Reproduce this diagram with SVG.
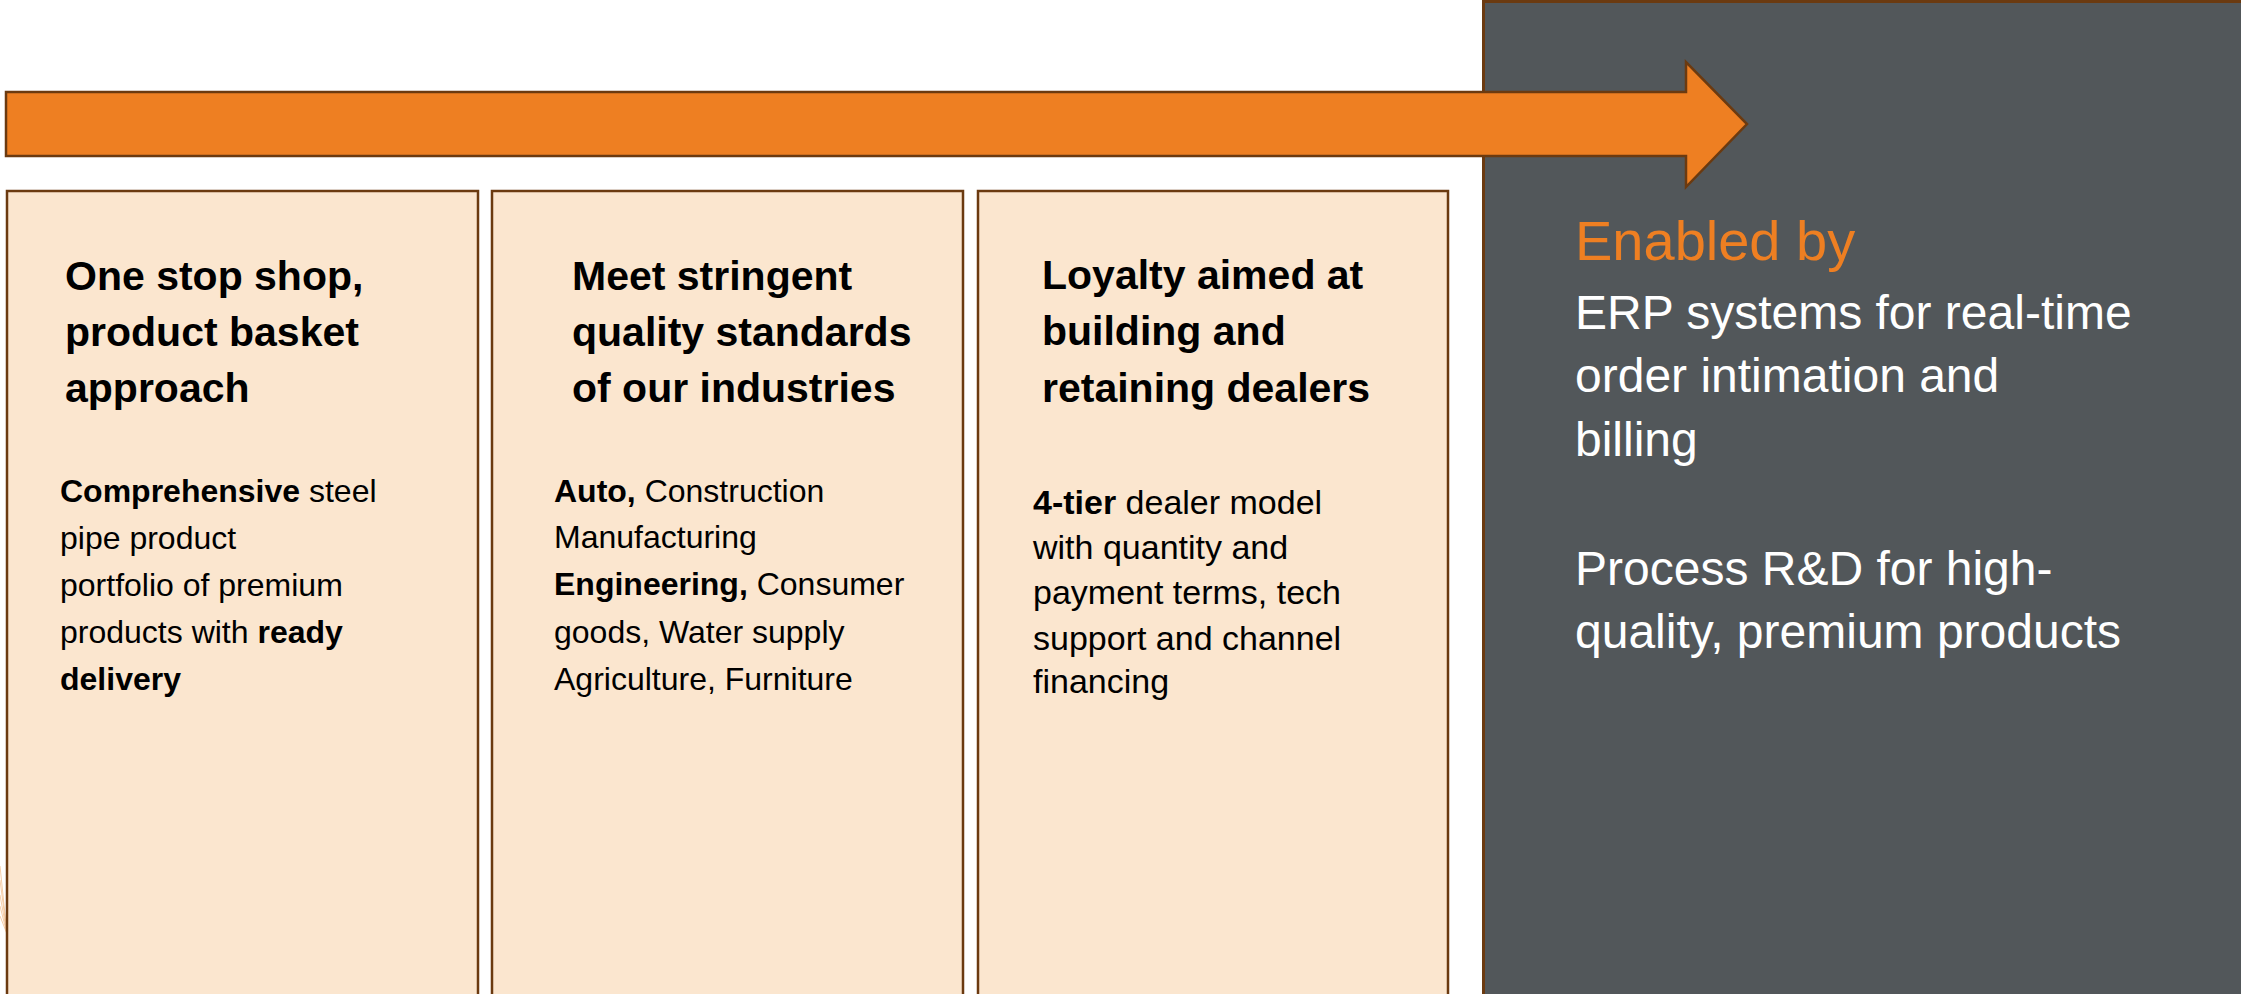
<svg xmlns="http://www.w3.org/2000/svg" width="2241" height="994" viewBox="0 0 2241 994">
  <style>
    .box { fill: #FBE6CF; stroke: #6B3A10; stroke-width: 2.5; }
    .panel { fill: #52575A; stroke: #6B3A10; stroke-width: 3; }
    .title { font-family: "Liberation Sans", Arial, sans-serif; font-weight: bold; font-size: 41px; fill: #000000; }
    .body { font-family: "Liberation Sans", Arial, sans-serif; font-size: 32px; fill: #000000; }
    .body3 { font-family: "Liberation Sans", Arial, sans-serif; font-size: 34px; fill: #000000; }
    .b { font-weight: bold; }
    .head { font-family: "Liberation Sans", Arial, sans-serif; font-size: 56px; fill: #EE7F22; }
    .side { font-family: "Liberation Sans", Arial, sans-serif; font-size: 48px; fill: #FFFFFF; }
    .trace { stroke: #F2C293; stroke-width: 0.8; fill: none; }
  </style>

  <rect width="2241" height="994" fill="#FFFFFF"/>

  <!-- right-hand "Enabled by" panel -->
  <g id="enablers">
    <rect class="panel" x="1483.5" y="1.5" width="770" height="1000"/>
    <text class="head" x="1575" y="260">Enabled by</text>
    <text class="side" x="1575" y="329">ERP systems for real-time</text>
    <text class="side" x="1575" y="392">order intimation and</text>
    <text class="side" x="1575" y="456">billing</text>
    <text class="side" x="1575" y="585">Process R&amp;D for high-</text>
    <text class="side" x="1575" y="648">quality, premium products</text>
  </g>

  <!-- faint leftover strokes at the left edge -->
  <g id="edge-traces">
    <line class="trace" x1="0" y1="866" x2="7" y2="934"/>
    <line class="trace" x1="0" y1="880" x2="7" y2="934"/>
    <line class="trace" x1="0" y1="895" x2="7" y2="934"/>
    <line class="trace" x1="0" y1="906" x2="7" y2="934"/>
    <line class="trace" x1="0" y1="916" x2="7" y2="934"/>
  </g>

  <!-- column 1 -->
  <g id="one-stop-shop">
    <rect class="box" x="7" y="191" width="471" height="820"/>
    <text class="title" x="65" y="290">One stop shop,</text>
    <text class="title" x="65" y="346">product basket</text>
    <text class="title" x="65" y="402">approach</text>
    <text class="body" x="60" y="502"><tspan class="b">Comprehensive</tspan> steel</text>
    <text class="body" x="60" y="549">pipe product</text>
    <text class="body" x="60" y="596">portfolio of premium</text>
    <text class="body" x="60" y="643">products with <tspan class="b">ready</tspan></text>
    <text class="body b" x="60" y="690">delivery</text>
  </g>

  <!-- column 2 -->
  <g id="quality-standards">
    <rect class="box" x="492" y="191" width="471" height="820"/>
    <text class="title" x="572" y="290">Meet stringent</text>
    <text class="title" x="572" y="346">quality standards</text>
    <text class="title" x="572" y="402">of our industries</text>
    <text class="body" x="554" y="502"><tspan class="b">Auto,</tspan> Construction</text>
    <text class="body" x="554" y="548">Manufacturing</text>
    <text class="body" x="554" y="595"><tspan class="b">Engineering,</tspan> Consumer</text>
    <text class="body" x="554" y="643">goods, Water supply</text>
    <text class="body" x="554" y="690">Agriculture, Furniture</text>
  </g>

  <!-- column 3 -->
  <g id="dealer-loyalty">
    <rect class="box" x="978" y="191" width="470" height="820"/>
    <text class="title" x="1042" y="289">Loyalty aimed at</text>
    <text class="title" x="1042" y="345">building and</text>
    <text class="title" x="1042" y="402">retaining dealers</text>
    <text class="body3" x="1033" y="514"><tspan class="b">4-tier</tspan> dealer model</text>
    <text class="body3" x="1033" y="559">with quantity and</text>
    <text class="body3" x="1033" y="604">payment terms, tech</text>
    <text class="body3" x="1033" y="650">support and channel</text>
    <text class="body3" x="1033" y="693">financing</text>
  </g>

  <!-- block arrow running across the top -->
  <g id="connectors">
    <path d="M6 92 L1686 92 L1686 62 L1747 124 L1686 187 L1686 156 L6 156 Z"
          fill="#EE7F22" stroke="#6B3A10" stroke-width="2.5" stroke-linejoin="miter"/>
  </g>
</svg>
